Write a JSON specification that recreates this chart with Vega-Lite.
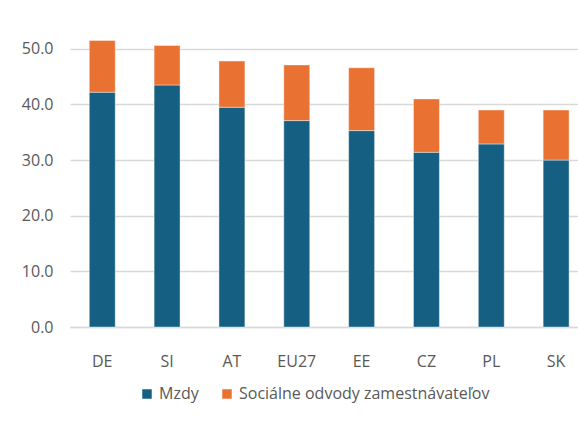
{
  "$schema": "https://vega.github.io/schema/vega-lite/v6.json",
  "width": 508,
  "height": 306,
  "autosize": {"type": "none"},
  "padding": {"left": 70, "top": 21, "right": 0, "bottom": 94},
  "background": "#ffffff",
  "data": {
    "values": [
      {"country": "DE", "series": "Mzdy", "o": 1, "value": 42.2},
      {"country": "DE", "series": "Sociálne odvody zamestnávateľov", "o": 2, "value": 9.3},
      {"country": "SI", "series": "Mzdy", "o": 1, "value": 43.5},
      {"country": "SI", "series": "Sociálne odvody zamestnávateľov", "o": 2, "value": 7.1},
      {"country": "AT", "series": "Mzdy", "o": 1, "value": 39.5},
      {"country": "AT", "series": "Sociálne odvody zamestnávateľov", "o": 2, "value": 8.3},
      {"country": "EU27", "series": "Mzdy", "o": 1, "value": 37.1},
      {"country": "EU27", "series": "Sociálne odvody zamestnávateľov", "o": 2, "value": 10.0},
      {"country": "EE", "series": "Mzdy", "o": 1, "value": 35.3},
      {"country": "EE", "series": "Sociálne odvody zamestnávateľov", "o": 2, "value": 11.3},
      {"country": "CZ", "series": "Mzdy", "o": 1, "value": 31.4},
      {"country": "CZ", "series": "Sociálne odvody zamestnávateľov", "o": 2, "value": 9.6},
      {"country": "PL", "series": "Mzdy", "o": 1, "value": 32.9},
      {"country": "PL", "series": "Sociálne odvody zamestnávateľov", "o": 2, "value": 6.1},
      {"country": "SK", "series": "Mzdy", "o": 1, "value": 30.0},
      {"country": "SK", "series": "Sociálne odvody zamestnávateľov", "o": 2, "value": 9.0}
    ]
  },
  "mark": {"type": "bar", "stroke": "#ffffff", "strokeOpacity": 0.5, "strokeWidth": 0.8},
  "encoding": {
    "x": {
      "field": "country",
      "type": "nominal",
      "sort": null,
      "title": null,
      "scale": {"paddingInner": 0.6, "paddingOuter": 0.2174, "align": 0.684},
      "axis": {
        "labelAngle": 0,
        "ticks": false,
        "domainColor": "#d9d9d9",
        "domainWidth": 1.3,
        "labelPadding": 26,
        "labelFontSize": 16,
        "labelColor": "#595959",
        "labelFont": "Open Sans"
      }
    },
    "y": {
      "field": "value",
      "type": "quantitative",
      "stack": "zero",
      "title": null,
      "scale": {"domain": [0, 55], "nice": false},
      "axis": {
        "values": [0, 10, 20, 30, 40, 50],
        "format": ".1f",
        "ticks": false,
        "domain": false,
        "gridColor": "#d9d9d9",
        "gridWidth": 1.3,
        "labelPadding": 17,
        "labelFontSize": 16,
        "labelColor": "#595959",
        "labelFont": "Open Sans"
      }
    },
    "color": {
      "field": "series",
      "type": "nominal",
      "scale": {
        "domain": ["Mzdy", "Sociálne odvody zamestnávateľov"],
        "range": ["#156082", "#E97132"]
      },
      "legend": {
        "title": null,
        "orient": "none",
        "direction": "horizontal",
        "legendX": 69,
        "legendY": 365,
        "symbolType": "square",
        "symbolSize": 90,
        "symbolStrokeWidth": 0,
        "labelFontSize": 16,
        "labelColor": "#595959",
        "labelFont": "Open Sans",
        "labelLimit": 0,
        "labelOffset": 4,
        "columnPadding": 20,
        "padding": 0
      }
    },
    "order": {"field": "o", "type": "quantitative"}
  },
  "config": {"view": {"stroke": null}}
}
